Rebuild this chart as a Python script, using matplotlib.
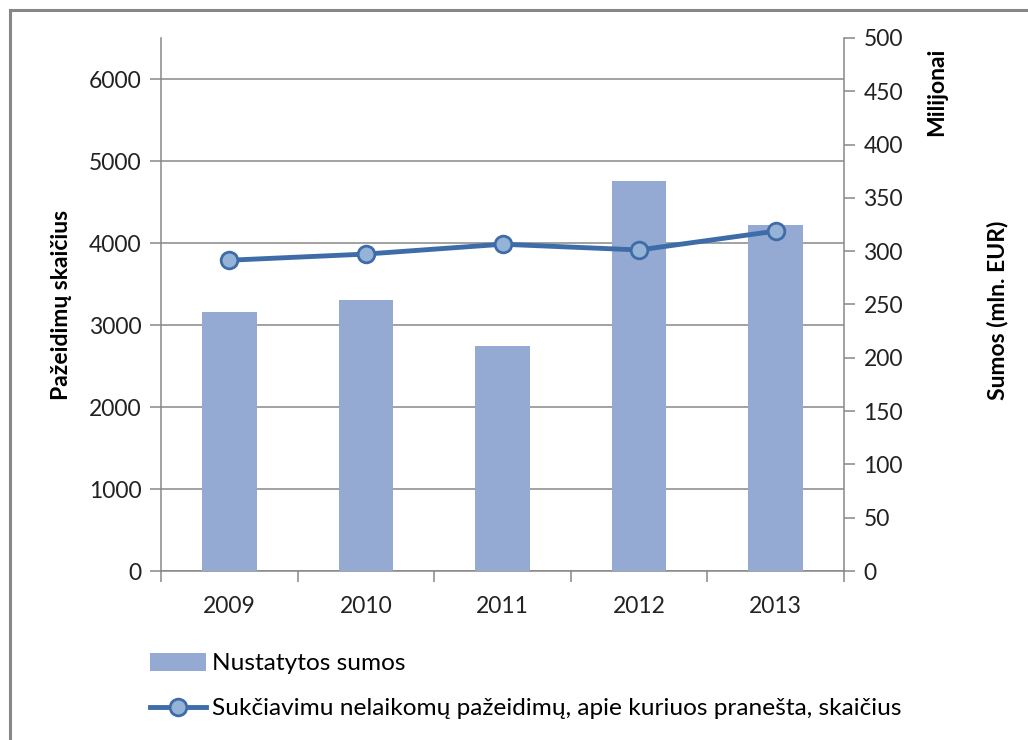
import matplotlib
matplotlib.use("Agg")
import matplotlib.pyplot as plt
from matplotlib.lines import Line2D
from matplotlib.patches import Patch
import numpy as np

years = ["2009", "2010", "2011", "2012", "2013"]
sums_mln = [243, 254, 211, 366, 325]          # Nustatytos sumos (right axis)
counts = [3790, 3865, 3985, 3915, 4145]       # line (left axis)
left_ticks = [0, 1000, 2000, 3000, 4000, 5000, 6000]
right_ticks = [0, 50, 100, 150, 200, 250, 300, 350, 400, 450, 500]

plt.rcParams['font.family'] = ['Lato', 'DejaVu Sans']
GRAY = '#878787'
BAR_C = '#95AAD2'
LINE_C = '#3E6CA8'
MK_FACE = '#95B3D7'
FS = 16.5
FS_LAB = 16.5
FS_LEG = 17.6

W, H = 1028, 740
fig = plt.figure(figsize=(W / 100, H / 100), dpi=100)
fig.patch.set_facecolor('white')

l, r, b, t = 161 / W, 844 / W, 1 - 571 / H, 1 - 38 / H
ax = fig.add_axes([l, b, r - l, t - b])
x = np.arange(len(years))

# base axis: gridlines + left ticks
ax.set_xlim(-0.5, len(years) - 0.5)
ax.set_ylim(0, 6500)
ax.set_yticks(left_ticks)
ax.set_yticklabels([str(v) for v in left_ticks], fontsize=FS, color='#222222')
ax.grid(axis='y', color=GRAY, lw=1.1)
ax.set_axisbelow(True)
ax.set_xticks(x)
ax.set_xticklabels(years, fontsize=FS, color='#222222')
ax.set_xticks(np.arange(-0.5, len(years), 1), minor=True)
ax.tick_params(axis='x', which='major', length=0, pad=18)
ax.tick_params(axis='x', which='minor', length=8, color=GRAY, width=1.1)
ax.tick_params(axis='y', length=8, color=GRAY, width=1.1, pad=6)
for s in ['top', 'right']:
    ax.spines[s].set_visible(False)
for s in ['left', 'bottom']:
    ax.spines[s].set_color(GRAY)
    ax.spines[s].set_linewidth(1.1)
ax.set_ylabel('Pažeidimų skaičius', fontsize=FS_LAB, fontweight='bold', labelpad=12)

# bars on right axis
ax2 = ax.twinx()
ax2.set_ylim(0, 500)
ax2.bar(x, sums_mln, width=0.40, color=BAR_C, zorder=2)
ax2.set_yticks(right_ticks)
ax2.set_yticklabels([str(v) for v in right_ticks], fontsize=FS, color='#222222')
ax2.tick_params(axis='y', length=8, color=GRAY, width=1.1, pad=6)
for s in ['top', 'left', 'bottom']:
    ax2.spines[s].set_visible(False)
ax2.spines['right'].set_color(GRAY)
ax2.spines['right'].set_linewidth(1.1)

# line on top
ax3 = ax.twinx()
ax3.set_ylim(0, 6500)
ax3.set_yticks([])
for s in ax3.spines.values():
    s.set_visible(False)
ax3.plot(x, counts, color=LINE_C, lw=3.5, marker='o', markersize=12,
         markerfacecolor=MK_FACE, markeredgecolor=LINE_C, markeredgewidth=2, zorder=5)

fig.text(997 / W, 1 - 310 / H, 'Sumos (mln. EUR)', rotation=90, fontsize=FS_LAB,
         fontweight='bold', ha='center', va='center')
fig.text(937 / W, 1 - 92 / H, 'Milijonai', rotation=90, fontsize=FS_LAB,
         fontweight='bold', ha='center', va='center')

handles = [Patch(facecolor=BAR_C, edgecolor='none'),
           Line2D([0], [0], color=LINE_C, lw=3.5, marker='o', markersize=12,
                  markerfacecolor=MK_FACE, markeredgecolor=LINE_C, markeredgewidth=2)]
labels = ['Nustatytos sumos',
          'Sukčiavimu nelaikomų pažeidimų, apie kuriuos pranešta, skaičius']
fig.legend(handles, labels, loc='center left', bbox_to_anchor=(128 / W, 1 - 686 / H),
           frameon=False, fontsize=FS_LEG, handlelength=2.3, handleheight=0.8,
           handletextpad=0.25, labelspacing=0.95)

# chart border (left and top visible)
fig.add_artist(Line2D([9.5 / W, 9.5 / W], [0, 1 - 9.5 / H], color=GRAY, lw=2.2,
                      transform=fig.transFigure))
fig.add_artist(Line2D([9.5 / W, 1], [1 - 9.5 / H, 1 - 9.5 / H], color=GRAY, lw=2.2,
                      transform=fig.transFigure))

fig.savefig('out.png', dpi=100, facecolor='white')
